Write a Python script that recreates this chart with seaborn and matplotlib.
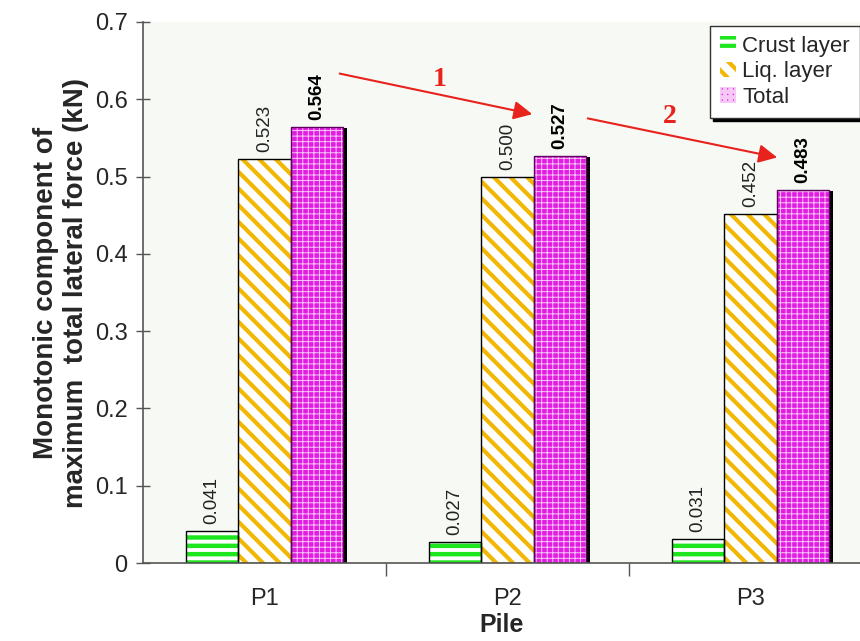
import numpy as np
import pandas as pd
import matplotlib
matplotlib.use("Agg")
import matplotlib.pyplot as plt
import matplotlib.transforms as mtransforms
from matplotlib.patches import Rectangle
import seaborn as sns

# chart data
piles = ["P1", "P2", "P3"]
layers = ["Crust layer", "Liq. layer", "Total"]
crust = [0.041, 0.027, 0.031]
liq = [0.523, 0.500, 0.452]
total = [0.564, 0.527, 0.483]
y_ticks = [0, 0.1, 0.2, 0.3, 0.4, 0.5, 0.6, 0.7]
y_tick_labels = ["0", "0.1", "0.2", "0.3", "0.4", "0.5", "0.6", "0.7"]

df = pd.DataFrame({
    "Pile": piles * 3,
    "Layer": np.repeat(layers, 3),
    "Force": crust + liq + total,
})

sns.set_theme(style="white")
plt.rcParams["font.family"] = ["Liberation Sans", "DejaVu Sans"]
plt.rcParams["hatch.linewidth"] = 3.0

fig = plt.figure(figsize=(8.6, 6.41), dpi=100)
ax = fig.add_axes([143 / 860, 78 / 641, 1 - 143 / 860, 541 / 641])
ax.set_facecolor("#f7f9f4")

sns.barplot(data=df, x="Pile", y="Force", hue="Layer", order=piles,
            hue_order=layers, width=0.65, linewidth=0, ax=ax,
            palette=["white", "white", "#e21ce2"], legend=False)

# styling per series: face, hatch, hatch colour, outline, hatch width
styles = [
    ("white", "--", "#1ee61e", "black", 3.2),
    ("white", "\\\\", "#f2b705", "black", 3.0),
    ("#e21ce2", "+++", "#f6c8f6", "#600060", 0.7),
]
for cont, (face, hatch, hcol, ecol, hlw) in zip(ax.containers, styles):
    for bar in cont.patches:
        bar.set_facecolor(face)
        bar.set_hatch(hatch)
        bar.set_edgecolor(hcol)
        bar.set_linewidth(0)
        if hasattr(bar, "set_hatch_linewidth"):
            bar.set_hatch_linewidth(hlw)
        outline = Rectangle(bar.get_xy(), bar.get_width(), bar.get_height(),
                            fill=False, edgecolor=ecol, linewidth=1.0, zorder=bar.get_zorder() + 0.1)
        ax.add_patch(outline)

# solid black drop shadow behind the Total bars
shadow_tr = mtransforms.offset_copy(ax.transData, fig=fig, x=4, y=-1, units="dots")
for bar in ax.containers[2].patches:
    ax.add_patch(Rectangle(bar.get_xy(), bar.get_width(), bar.get_height(),
                           facecolor="black", edgecolor="none", transform=shadow_tr,
                           zorder=bar.get_zorder() - 0.1))

# value labels
ax.bar_label(ax.containers[0], fmt="%.3f", rotation=90, padding=5, fontsize=13.5, color="#222222")
ax.bar_label(ax.containers[1], fmt="%.3f", rotation=90, padding=5, fontsize=13.5, color="#222222")
ax.bar_label(ax.containers[2], fmt="%.3f", rotation=90, padding=5, fontsize=13.5, fontweight="bold", color="black")

ax.set_ylim(0, 0.7)
ax.set_xlim(-0.5, -0.5 + (860 - 143) / 243)
ax.set_yticks(y_ticks)
ax.set_yticklabels(y_tick_labels)
ax.tick_params(axis="y", which="major", direction="inout", length=10, width=1, color="#555555",
               labelsize=17, pad=6, left=True)
ax.tick_params(axis="x", which="major", length=0, labelsize=17, pad=18)
ax.set_xticks([0.5, 1.5], minor=True)
ax.tick_params(axis="x", which="minor", direction="out", length=9, width=1, color="#555555", bottom=True)

for side in ["top", "right"]:
    ax.spines[side].set_visible(False)
for side in ["left", "bottom"]:
    ax.spines[side].set_color("#555555")
    ax.spines[side].set_linewidth(1.2)

ax.set_ylabel("Monotonic component of\nmaximum  total lateral force (kN)",
              fontsize=20, fontweight="bold", labelpad=4, linespacing=1.2)
ax.set_xlabel("Pile", fontsize=18, fontweight="bold", labelpad=2)

# trend arrows
arrow_kw = dict(arrowstyle="-|>", color="#e8221c", lw=1.5, mutation_scale=28)
ax.annotate("", xy=(1.113, 0.580), xytext=(0.298, 0.634), arrowprops=arrow_kw)
ax.annotate("", xy=(2.121, 0.524), xytext=(1.319, 0.576), arrowprops=arrow_kw)
ax.text(0.72, 0.626, "1", color="#e8221c", fontsize=20, fontweight="bold",
        family=["Liberation Serif", "DejaVu Serif"], ha="center", va="center")
ax.text(1.67, 0.578, "2", color="#e8221c", fontsize=20, fontweight="bold",
        family=["Liberation Serif", "DejaVu Serif"], ha="center", va="center")

leg = ax.legend(ax.containers, layers, loc="upper right",
                bbox_to_anchor=(1.0, (641 - 26) / 641), bbox_transform=fig.transFigure,
                borderaxespad=0, fontsize=16, frameon=True, fancybox=False,
                shadow={"color": "black", "alpha": 1.0},
                handlelength=0.7, handleheight=0.7, handletextpad=0.3,
                labelspacing=0.2, borderpad=0.45)
leg.get_frame().set_edgecolor("#333333")
leg.get_frame().set_linewidth(1.0)
leg.get_frame().set_facecolor("white")
leg.get_frame().set_alpha(1.0)

fig.savefig("out.png", dpi=100)
